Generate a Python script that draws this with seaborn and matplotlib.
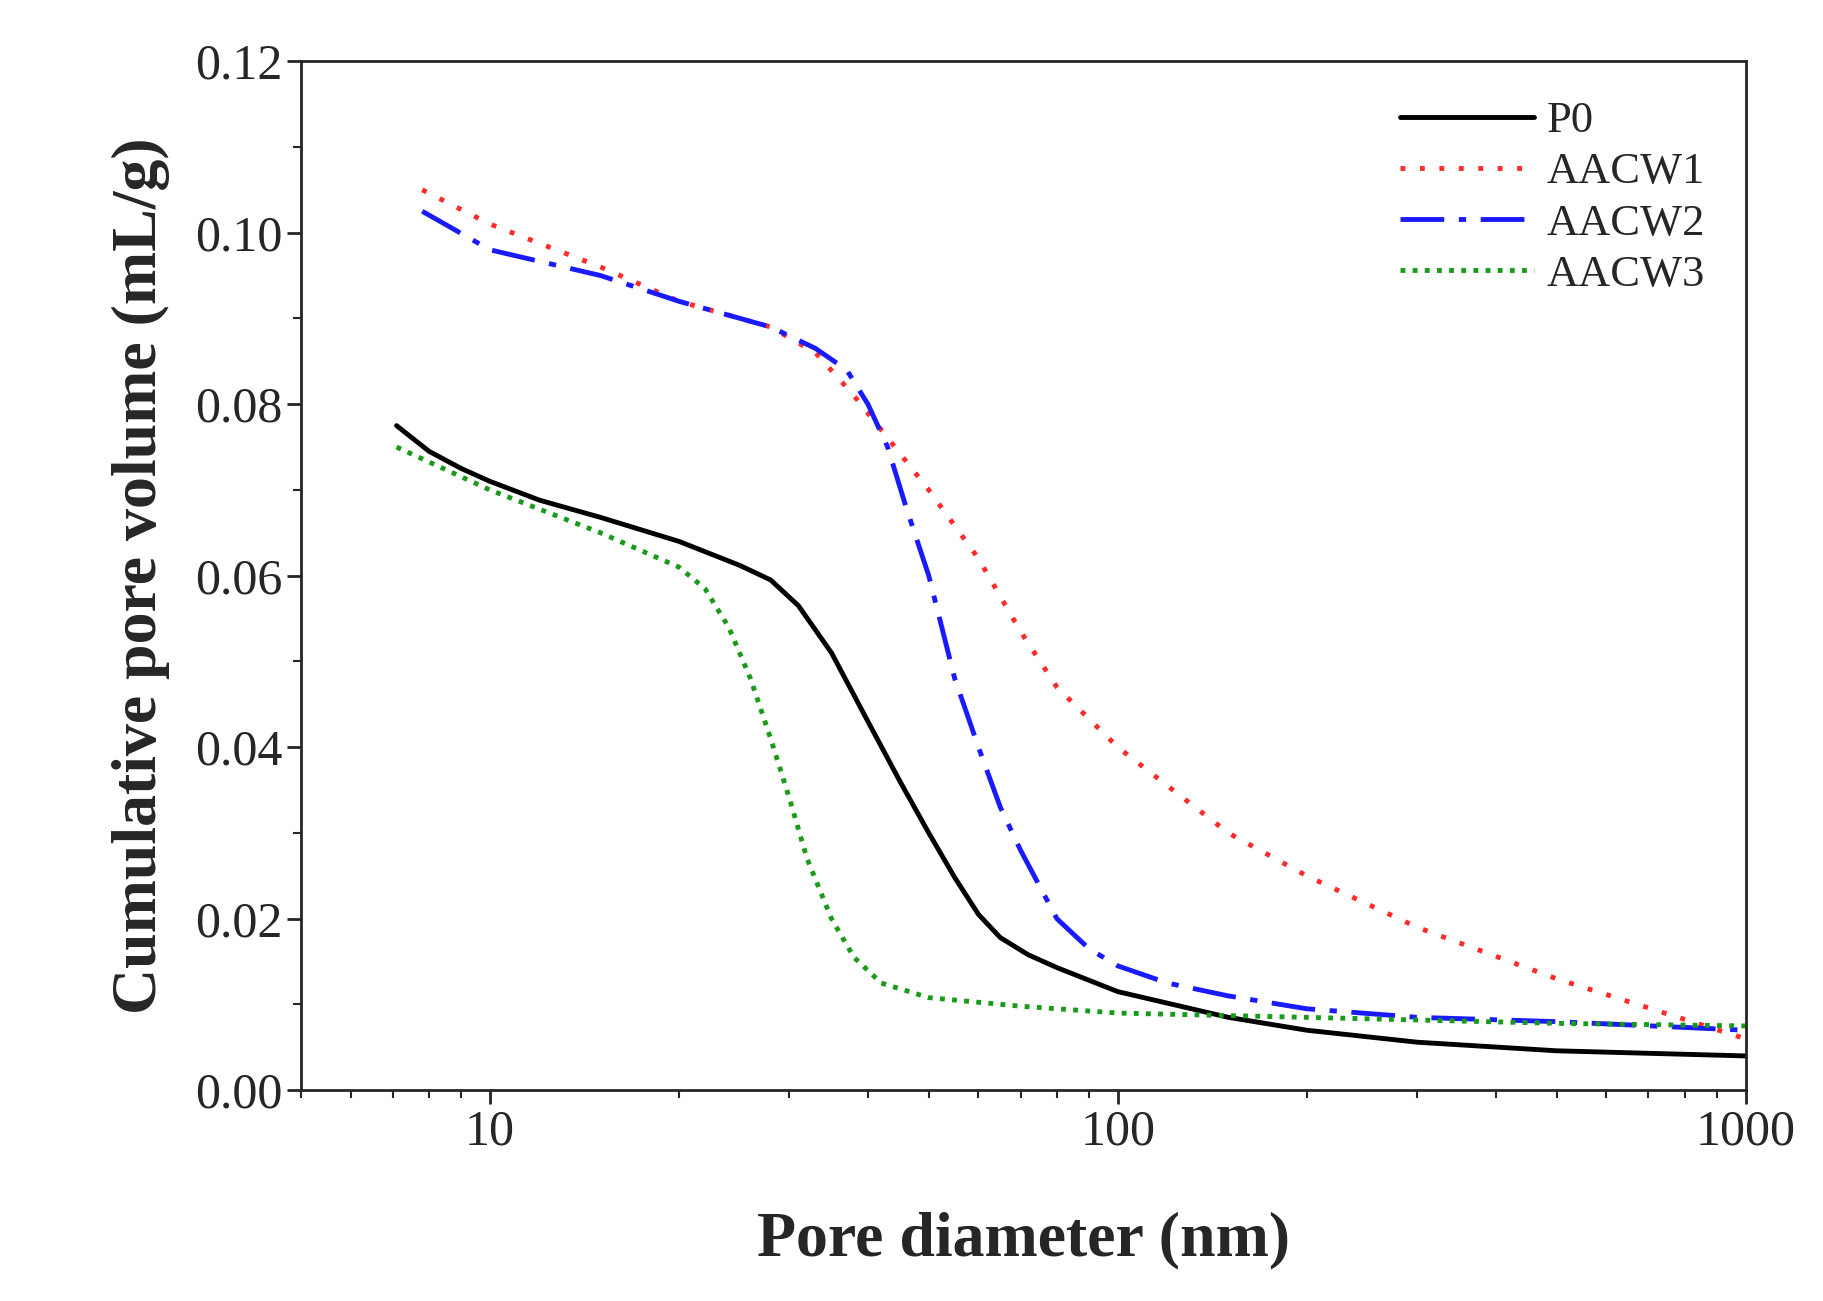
import matplotlib
matplotlib.use("Agg")
import matplotlib.pyplot as plt
import seaborn as sns
import pandas as pd
from matplotlib.ticker import FixedLocator, NullFormatter

sns.set_style("ticks")
plt.rcParams['font.family'] = ['Liberation Serif', 'DejaVu Serif']

p0_x = [7.1, 8, 9, 10, 12, 15, 20, 25, 28, 31, 35, 40, 45, 50, 55, 60, 65, 72, 80, 100, 150, 200, 300, 500, 1000]
p0_y = [0.0775, 0.0745, 0.0725, 0.071, 0.0688, 0.0668, 0.0640, 0.0612, 0.0595, 0.0565, 0.051, 0.043, 0.036, 0.030, 0.0248, 0.0205, 0.0178, 0.0158, 0.0143, 0.0115, 0.0085, 0.007, 0.0056, 0.0046, 0.004]
a1_x = [7.8, 10, 15, 20, 28, 33, 38, 42, 50, 60, 70, 80, 100, 150, 200, 300, 500, 1000]
a1_y = [0.105, 0.101, 0.096, 0.092, 0.089, 0.086, 0.081, 0.077, 0.070, 0.062, 0.0535, 0.047, 0.040, 0.030, 0.025, 0.019, 0.013, 0.006]
a2_x = [7.8, 10, 15, 20, 28, 33, 37, 40, 43, 46, 50, 55, 60, 65, 70, 80, 90, 100, 120, 150, 200, 300, 500, 1000]
a2_y = [0.1025, 0.098, 0.095, 0.092, 0.089, 0.0865, 0.084, 0.080, 0.075, 0.068, 0.060, 0.048, 0.040, 0.033, 0.028, 0.020, 0.0165, 0.0145, 0.0125, 0.011, 0.0095, 0.0085, 0.008, 0.007]
a3_x = [7.1, 10, 15, 20, 22, 24, 26, 28, 30, 32, 35, 38, 42, 50, 70, 100, 200, 500, 1000]
a3_y = [0.075, 0.070, 0.065, 0.061, 0.0585, 0.054, 0.048, 0.041, 0.034, 0.027, 0.020, 0.0155, 0.0125, 0.0108, 0.0098, 0.009, 0.0085, 0.0078, 0.0075]

series = [("P0", p0_x, p0_y, "black", "-"),
          ("AACW1", a1_x, a1_y, "#ff2a2a", (0, (1, 3))),
          ("AACW2", a2_x, a2_y, "#1a1aff", (0, (9, 3, 1.5, 3))),
          ("AACW3", a3_x, a3_y, "#1a9a1a", (0, (1, 1.5)))]

fig = plt.figure(figsize=(18.24, 13.01), dpi=100)
ax = fig.add_axes([0.165, 0.162, 0.792, 0.791])
for name, x, y, c, ls in series:
    df = pd.DataFrame({"x": x, "y": y})
    sns.lineplot(data=df, x="x", y="y", ax=ax, color=c, linestyle=ls, lw=3.5, label=name)

ax.set_xscale("log")
ax.set_xlim(5, 1000)
ax.set_ylim(0, 0.12)
ax.xaxis.set_major_locator(FixedLocator([10, 100, 1000]))
ax.set_xticklabels(["10", "100", "1000"])
ax.xaxis.set_minor_formatter(NullFormatter())
ax.set_yticks([0, 0.02, 0.04, 0.06, 0.08, 0.10, 0.12])
ax.set_yticklabels(["0.00", "0.02", "0.04", "0.06", "0.08", "0.10", "0.12"])
ax.yaxis.set_minor_locator(FixedLocator([0.01, 0.03, 0.05, 0.07, 0.09, 0.11]))
ax.tick_params(axis="both", which="major", labelsize=36, length=10, width=2, direction="out")
ax.tick_params(axis="both", which="minor", length=6, width=1.5, direction="out")
for s in ax.spines.values():
    s.set_linewidth(2)
ax.set_xlabel("Pore diameter (nm)", fontsize=46, fontweight="bold", labelpad=40)
ax.set_ylabel("Cumulative pore volume (mL/g)", fontsize=46, fontweight="bold", labelpad=18)
ax.legend(loc="upper right", fontsize=32, frameon=False, handlelength=3.0, handletextpad=0.3, labelspacing=0.25)
fig.savefig("out.png", dpi=100)
